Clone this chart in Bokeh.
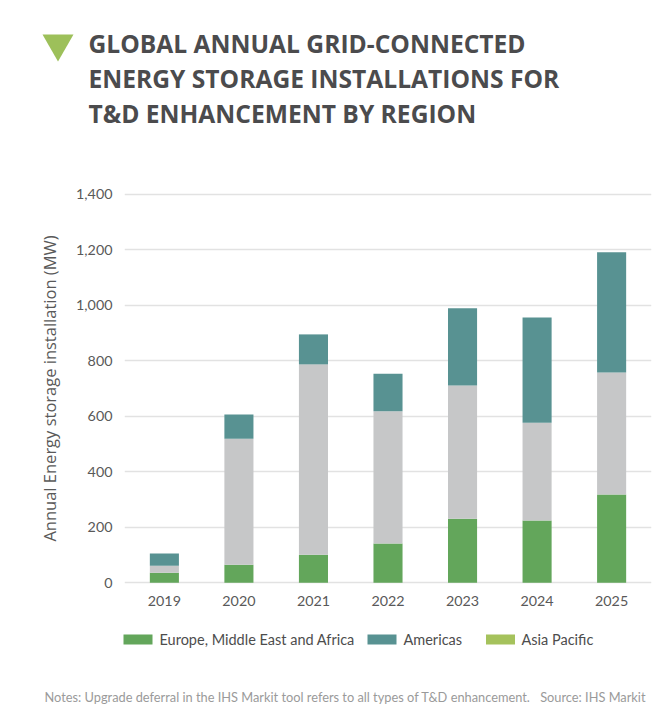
from bokeh.plotting import figure
from bokeh.models import Range1d, ColumnDataSource, FixedTicker, NumeralTickFormatter, FactorRange
from bokeh.layouts import column, row
from bokeh.embed import file_html
from bokeh.resources import INLINE
from bokeh.core.properties import value

# ---- data ----
years = ["2019", "2020", "2021", "2022", "2023", "2024", "2025"]
emea = [36, 65, 101, 141, 231, 224, 318]
asia_pacific = [25, 454, 686, 477, 480, 353, 440]
americas = [44, 87, 108, 135, 278, 379, 433]
series_names = ["Europe, Middle East and Africa", "Americas", "Asia Pacific"]
y_ticks = [0, 200, 400, 600, 800, 1000, 1200, 1400]
title_lines = ["GLOBAL ANNUAL GRID-CONNECTED",
               "ENERGY STORAGE INSTALLATIONS FOR",
               "T&D ENHANCEMENT BY REGION"]
y_label = "Annual Energy storage installation (MW)"
note_text = "Notes: Upgrade deferral in the IHS Markit tool refers to all types of T&D enhancement."
source_text = "Source: IHS Markit"

# ---- styles ----
W = 660
GREEN = "#63a65b"
TEAL = "#589292"
GRAY = "#c6c7c8"
LIGHT_GREEN = "#a5c25c"
TXT = "#595959"
FONT = "Lato"


def blank(height, y0, y1):
    f = figure(width=W, height=height, x_range=Range1d(0, W), y_range=Range1d(y1, y0),
               output_backend="svg", toolbar_location=None, min_border=0,
               x_axis_location=None, y_axis_location=None)
    f.grid.visible = False
    f.outline_line_color = None
    return f


# ---- header ----
head = blank(150, 0, 150)
head.scatter(x=[57.5], y=[43], marker="inverted_triangle", size=31, color="#9dc05a", line_color=None)
head.text(x=[88] * 3, y=[43, 78, 113], text=title_lines, text_font=value("Open Sans"),
          text_font_style="bold", text_font_size="24.6px", text_color="#4b4b4d",
          text_baseline="alphabetic")

# ---- main chart ----
src = ColumnDataSource(dict(year=years, emea=emea, asia_pacific=asia_pacific, americas=americas))
p = figure(width=W, height=470, x_range=FactorRange(factors=years, range_padding=0.01),
           y_range=Range1d(-10, 1410), output_backend="svg", toolbar_location=None,
           min_border_left=124, min_border_right=9, min_border_top=41, min_border_bottom=35)
p.vbar_stack(["emea", "asia_pacific", "americas"], x="year", width=0.39, source=src,
             color=[GREEN, GRAY, TEAL], line_color=None)
p.outline_line_color = None
p.xgrid.visible = False
p.ygrid.grid_line_color = "#e2e2e2"
p.ygrid.grid_line_width = 1.5
p.yaxis.ticker = FixedTicker(ticks=y_ticks)
p.ygrid.ticker = FixedTicker(ticks=y_ticks)
p.yaxis.formatter = NumeralTickFormatter(format="0,0")
for ax in (p.xaxis, p.yaxis):
    ax.axis_line_color = None
    ax.major_tick_line_color = None
    ax.minor_tick_line_color = None
    ax.major_tick_out = 0
    ax.major_tick_in = 0
    ax.minor_tick_out = 0
    ax.major_label_text_font = FONT
    ax.major_label_text_font_size = "14.3px"
    ax.major_label_text_color = TXT
p.xaxis.major_label_standoff = 10
p.yaxis.major_label_standoff = 12
p.yaxis.axis_label = y_label
p.yaxis.axis_label_text_font = "Open Sans"
p.yaxis.axis_label_text_font_size = "16.5px"
p.yaxis.axis_label_text_font_style = "normal"
p.yaxis.axis_label_text_color = TXT
p.yaxis.axis_label_standoff = 12

# ---- footer ----
foot = blank(102, 620, 722)
foot.rect(x=[137.5, 381.5, 500], y=[639] * 3, width=29, height=10,
          color=[GREEN, TEAL, LIGHT_GREEN], line_color=None)
foot.text(x=[159, 403, 521], y=[639] * 3, text=series_names, text_font=value(FONT),
          text_font_size="14.5px", text_color="#4d4d4d", text_baseline="middle")
foot.text(x=[44], y=[696], text=[note_text], text_font=value(FONT), text_font_size="12.8px",
          text_color="#9a9a9a", text_baseline="alphabetic")
foot.text(x=[645], y=[696], text=[source_text], text_font=value(FONT), text_font_size="12.8px",
          text_color="#9a9a9a", text_baseline="alphabetic", text_align="right")

layout = column(head, row(p), foot, spacing=0)
open("out.html", "w").write(file_html(layout, INLINE))
